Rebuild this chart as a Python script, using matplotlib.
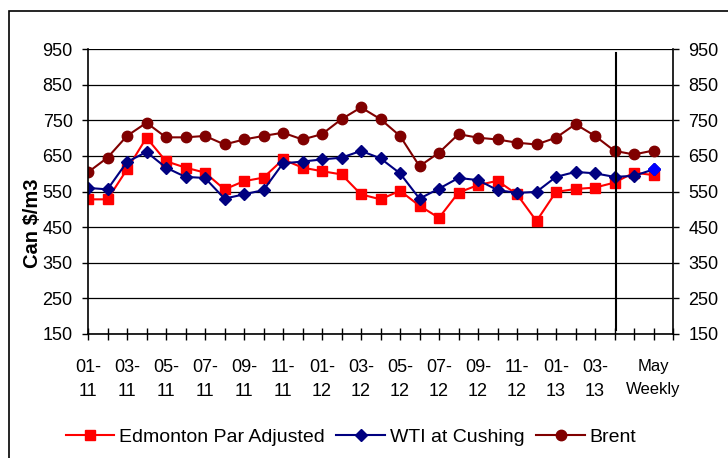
import matplotlib
matplotlib.use('Agg')
import matplotlib.pyplot as plt
from matplotlib.patches import Rectangle

# Values (Can $/m3)
edmonton = [528, 528, 612, 701, 635, 617, 603, 556, 579, 589,
            640, 617, 607, 598, 542, 528, 552, 510, 476, 547,
            568, 580, 542, 467, 549, 557, 561, 575, 603, 596]
wti = [560, 556, 633, 661, 617, 591, 588, 530, 542, 554,
       629, 634, 640, 645, 664, 643, 601, 530, 558, 588,
       582, 554, 546, 549, 591, 605, 601, 591, 594, 612]
brent = [604, 645, 706, 743, 702, 702, 706, 682, 696, 706,
         715, 696, 711, 753, 786, 753, 706, 621, 659, 711,
         701, 696, 687, 682, 701, 739, 706, 664, 654, 665]

tick_labels = ['01-\n11', '03-\n11', '05-\n11', '07-\n11', '09-\n11', '11-\n11',
               '01-\n12', '03-\n12', '05-\n12', '07-\n12', '09-\n12', '11-\n12',
               '01-\n13', '03-\n13', 'May\nWeekly']
tick_pos = [0, 2, 4, 6, 8, 10, 12, 14, 16, 18, 20, 22, 24, 26, 29]
y_ticks = [150, 250, 350, 450, 550, 650, 750, 850, 950]
weekly_start = 27.1

plt.rcParams['font.family'] = ['Liberation Sans', 'DejaVu Sans']

x = list(range(len(brent)))

fig = plt.figure(figsize=(7.28, 4.58), dpi=100)
ax = fig.add_axes([88/728, 1 - 334/458, 585/728, 285/458])

ax.plot(x, edmonton, color='#ff0000', marker='s', markersize=7.5, lw=1.5,
        label='Edmonton Par Adjusted')
ax.plot(x, wti, color='#000080', marker='D', markersize=6.5, lw=1.5,
        label='WTI at Cushing')
ax.plot(x[-1], wti[-1], color='#0000ff', marker='D', markersize=6.5, lw=0)
ax.plot(x, brent, color='#800000', marker='o', markersize=7.5, lw=1.5,
        label='Brent')

ax.axvline(weekly_start, ymin=0.015, ymax=0.985, color='black', lw=1.5)

ax.set_xlim(0, 30)
ax.set_ylim(150, 950)
ax.set_yticks(y_ticks)
ax.yaxis.grid(True, color='black', lw=0.9)
ax.set_axisbelow(True)

ax.set_xticks(range(31), minor=True)
ax.set_xticks(tick_pos)
ax.set_xticklabels(tick_labels, linespacing=1.55)
ax.tick_params(axis='x', which='both', direction='inout', length=8, width=1)
ax.tick_params(axis='x', which='major', pad=14, labelsize=13)
ax.tick_params(axis='y', which='both', direction='out', length=4, width=1,
               labelsize=13, pad=7, right=True, labelright=True)
for lbl in ax.get_xticklabels():
    if 'May' in lbl.get_text():
        lbl.set_fontsize(12)
        lbl.set_linespacing(1.7)

for side in ['left', 'right', 'bottom']:
    ax.spines[side].set_linewidth(1.2)
ax.spines['top'].set_visible(False)

fig.text(32/728, 1 - 223/458, 'Can $/m3', rotation=90, fontsize=14.5,
         fontweight='bold', ha='center', va='center')

fig.legend(loc='center', bbox_to_anchor=(351/728, 1 - 437/458), ncol=3,
           frameon=False, fontsize=14, handlelength=2.5, handletextpad=0.25,
           columnspacing=0.6)

# outer chart border
fig.patches.append(Rectangle((9/728, -0.1), 1.2, 1 - 11/458 + 0.1,
                             transform=fig.transFigure, fill=False,
                             edgecolor='black', lw=1.2))

fig.savefig('out.png', dpi=100)
